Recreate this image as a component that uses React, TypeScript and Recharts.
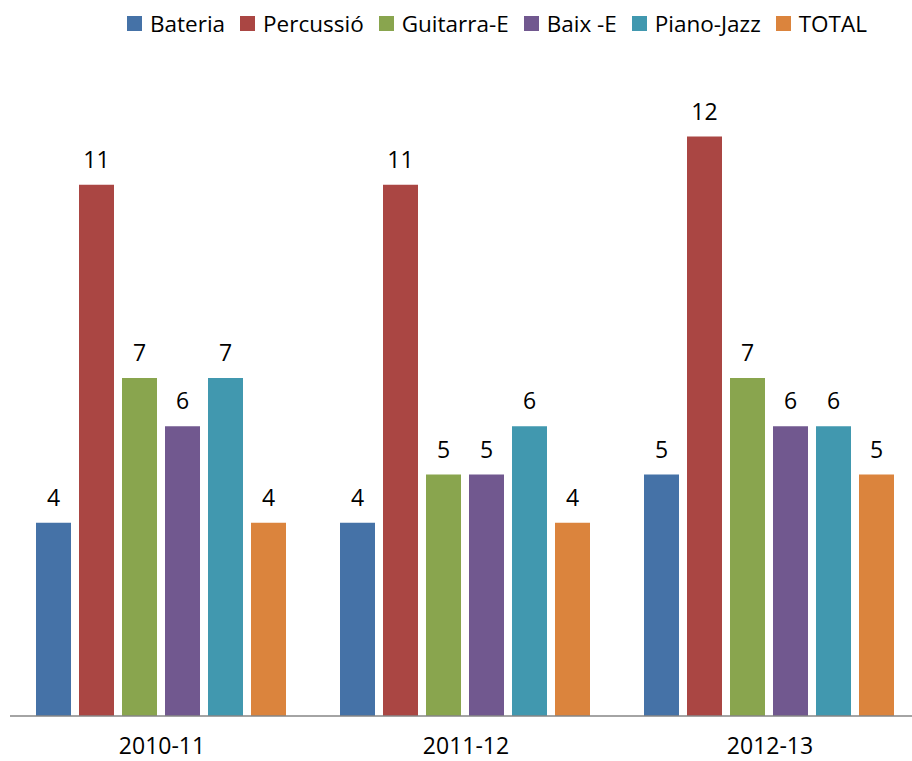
import React from "react";
import { BarChart, Bar, XAxis, YAxis, LabelList } from "recharts";

const categories = ["2010-11", "2011-12", "2012-13"];
const seriesNames = ["Bateria", "Percussió", "Guitarra-E", "Baix -E", "Piano-Jazz", "TOTAL"];
const bateria = [4, 4, 5];
const percussio = [11, 11, 12];
const guitarra = [7, 5, 7];
const baix = [6, 5, 6];
const piano = [7, 6, 6];
const total = [4, 4, 5];
const colors = ["#4572A7", "#AA4643", "#89A54E", "#71588F", "#4198AF", "#DB843D"];

const seriesValues = [bateria, percussio, guitarra, baix, piano, total];
const keys = ["s0", "s1", "s2", "s3", "s4", "s5"];

const data = categories.map((c, i) => {
  const row: Record<string, string | number> = { name: c };
  seriesValues.forEach((vals, k) => {
    row[keys[k]] = vals[i];
  });
  return row;
});

const FONT = "'Open Sans', 'Liberation Sans', sans-serif";

export default function App() {
  return (
    <div
      style={{
        position: "absolute",
        left: 0,
        top: 0,
        width: 912,
        height: 761,
        overflow: "hidden",
        background: "#fff",
        fontFamily: FONT,
      }}
    >
      <div
        style={{
          position: "absolute",
          top: 8,
          left: 127,
          display: "flex",
          alignItems: "center",
          fontSize: 22.5,
          color: "#000",
          whiteSpace: "nowrap",
          zIndex: 2,
        }}
      >
        {seriesNames.map((n, i) => (
          <div key={n} style={{ display: "flex", alignItems: "center", marginRight: i < seriesNames.length - 1 ? 15 : 0 }}>
            <span style={{ display: "inline-block", width: 15, height: 15, background: colors[i], marginRight: 8 }} />
            <span>{n}</span>
          </div>
        ))}
      </div>
      <BarChart
        width={922}
        height={761}
        data={data}
        margin={{ top: 40, right: 0, left: 10, bottom: 0 }}
        barCategoryGap={26}
        barGap={8}
      >
        <XAxis
          dataKey="name"
          height={45}
          axisLine={{ stroke: "#868686", strokeWidth: 1.5 }}
          tickLine={false}
          tickMargin={16}
          tick={{ fontSize: 23, fill: "#000", fontFamily: FONT }}
        />
        <YAxis hide domain={[0, 14]} />
        {keys.map((k, i) => (
          <Bar key={k} dataKey={k} name={seriesNames[i]} fill={colors[i]} isAnimationActive={false}>
            <LabelList
              dataKey={k}
              position="top"
              offset={17}
              style={{ fontSize: 23, fill: "#000", fontFamily: FONT }}
            />
          </Bar>
        ))}
      </BarChart>
    </div>
  );
}
